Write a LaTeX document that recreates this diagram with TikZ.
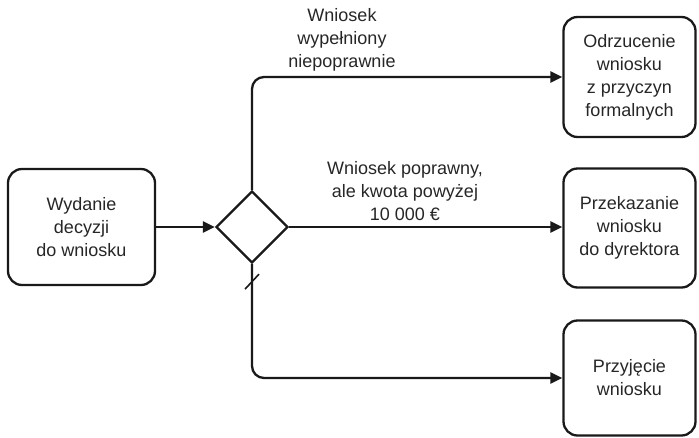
\documentclass[tikz,border=0pt]{standalone}
\usepackage{fontspec}
\setmainfont{Liberation Sans}
\usetikzlibrary{arrows.meta,shapes.geometric,calc}
\begin{document}
\begin{tikzpicture}[x=1pt,y=-1pt,
  txt/.style={font=\fontsize{18}{23}\selectfont, text=black!85, align=center},
  task/.style={txt, draw=black!90, line width=2.3pt, rounded corners=14pt,
    inner sep=0pt},
  gateway/.style={draw=black!90, line width=2.3pt, diamond, inner sep=0pt,
    minimum width=72pt, minimum height=72pt},
  flow/.style={draw=black!90, line width=2.3pt, rounded corners=12pt,
    -{Triangle[length=12pt,width=11pt]}},
  lbl/.style={txt}]
\useasboundingbox (0,0) rectangle (699,437);

% activities
\node[task, minimum width=147pt, minimum height=116pt] (dec) at (81.5,227)
  {Wydanie\\decyzji\\do wniosku};
\node[gateway] (gw) at (252,227) {};
\node[task, minimum width=132pt, minimum height=120pt] (rej) at (629.5,77)
  {Odrzucenie\\wniosku\\z przyczyn\\formalnych};
\node[task, minimum width=132pt, minimum height=119pt] (fwd) at (629.5,228)
  {Przekazanie\\wniosku\\do dyrektora};
\node[task, minimum width=132pt, minimum height=115pt] (acc) at (629.5,378)
  {Przyjęcie\\wniosku};

% sequence flows
\draw[flow] (dec.east) -- (gw.west);
\draw[flow] (gw.north) |- (rej.west);
\draw[flow] (gw.east) -- (gw.east -| fwd.west);
\draw[flow] (gw.south) |- (acc.west);

% default-flow marker
\coordinate (d1) at ($(gw.south)+(-7,25)$);
\coordinate (d2) at ($(gw.south)+(7,10)$);
\draw[line width=1.6pt, draw=black!90] (d1) -- (d2);

% conditions
\node[lbl] (c1) at (342,40) {Wniosek\\wypełniony\\niepoprawnie};
\node[lbl] (c2) at (405,191) {Wniosek poprawny,\\ale kwota powyżej\\10 000 €};
\end{tikzpicture}
\end{document}
